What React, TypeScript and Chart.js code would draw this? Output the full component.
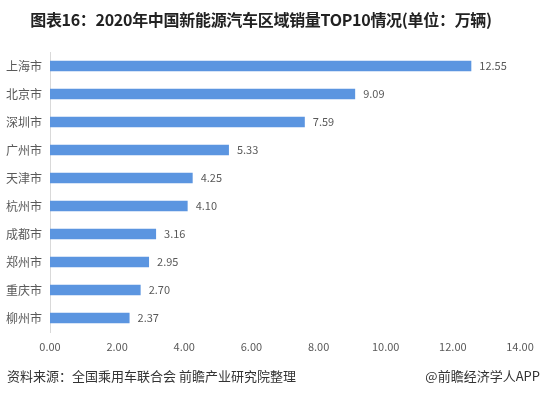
import React, { useEffect, useRef } from "react";
import { Chart, registerables } from "chart.js";

Chart.register(...registerables);

const cities = ["上海市", "北京市", "深圳市", "广州市", "天津市", "杭州市", "成都市", "郑州市", "重庆市", "柳州市"];
const sales = [12.55, 9.09, 7.59, 5.33, 4.25, 4.1, 3.16, 2.95, 2.7, 2.37];
const xMin = 0;
const xMax = 14;
const xStep = 2;

const titleText = "图表16：2020年中国新能源汽车区域销量TOP10情况(单位：万辆)";
const sourceText = "资料来源：全国乘用车联合会 前瞻产业研究院整理";
const brandText = "@前瞻经济学人APP";

const FONT = "'Microsoft YaHei', 'Noto Sans CJK SC', 'Noto Sans', sans-serif";

const valueLabels = {
  id: "valueLabels",
  afterDatasetsDraw(chart: any) {
    const ctx = chart.ctx;
    const meta = chart.getDatasetMeta(0);
    ctx.save();
    ctx.font = `11px ${FONT}`;
    ctx.fillStyle = "#595959";
    ctx.textAlign = "left";
    ctx.textBaseline = "middle";
    meta.data.forEach((bar: any, i: number) => {
      ctx.fillText(sales[i].toFixed(2), bar.x + 8, bar.y);
    });
    ctx.restore();
  },
};

export default function App() {
  const ref = useRef<HTMLCanvasElement | null>(null);

  useEffect(() => {
    if (!ref.current) return;
    const chart = new Chart(ref.current, {
      type: "bar",
      data: {
        labels: cities,
        datasets: [
          {
            data: sales,
            backgroundColor: "#5b95e0",
            barPercentage: 0.37,
            categoryPercentage: 1,
          },
        ],
      },
      options: {
        indexAxis: "y",
        animation: false,
        responsive: false,
        maintainAspectRatio: false,
        layout: { padding: { top: 52, right: 26, left: 0, bottom: 0 } },
        plugins: {
          legend: { display: false },
          tooltip: { enabled: false },
          title: { display: false },
        },
        scales: {
          x: {
            min: xMin,
            max: xMax,
            grid: { display: false, drawTicks: false },
            border: { display: false },
            ticks: {
              stepSize: xStep,
              padding: 8,
              color: "#595959",
              font: { size: 11, family: FONT },
              callback: (v: any) => Number(v).toFixed(2),
            },
            afterFit: (s: any) => {
              s.height = 63;
            },
          },
          y: {
            grid: { display: false, drawTicks: false },
            border: { display: true, color: "#d9d9d9" },
            ticks: {
              padding: 8,
              color: "#595959",
              font: { size: 12, family: FONT },
            },
            afterFit: (s: any) => {
              s.width = 50;
            },
          },
        },
      },
      plugins: [valueLabels],
    });
    return () => chart.destroy();
  }, []);

  return (
    <div style={{ position: "fixed", left: 0, top: 0, width: 546, height: 395, background: "#fff", fontFamily: FONT }}>
      <canvas ref={ref} width={546} height={395} style={{ position: "absolute", left: 0, top: 0 }} />
      <div
        style={{
          position: "absolute",
          left: 0,
          top: 7,
          width: 522,
          textAlign: "center",
          fontSize: 16,
          fontWeight: "bold",
          color: "#222",
          whiteSpace: "nowrap",
          letterSpacing: -0.3,
        }}
      >
        {titleText}
      </div>
      <div style={{ position: "absolute", left: 7, top: 366, fontSize: 13, color: "#333", whiteSpace: "nowrap" }}>
        {sourceText}
      </div>
      <div style={{ position: "absolute", right: 6, top: 366, fontSize: 13, color: "#333", whiteSpace: "nowrap" }}>
        {brandText}
      </div>
    </div>
  );
}
